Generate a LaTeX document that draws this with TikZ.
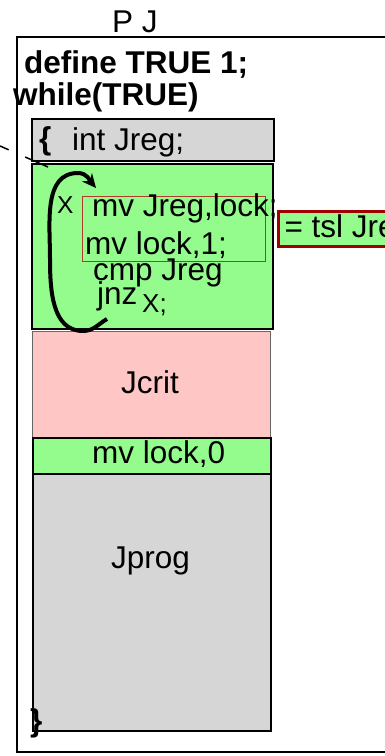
\documentclass[tikz,border=0pt]{standalone}
\usepackage{fontspec}
\setmainfont{Liberation Sans}
\usetikzlibrary{arrows.meta}
\definecolor{codegreen}{RGB}{148,252,140}
\definecolor{critpink}{RGB}{255,198,198}
\definecolor{blockgray}{RGB}{214,214,214}
\definecolor{tslred}{RGB}{160,0,0}
\definecolor{atomred}{RGB}{178,58,42}
\tikzset{
  txt/.style={anchor=base west, inner sep=0pt, font=\fontsize{31.5}{38}\selectfont},
  boldtxt/.style={txt, font=\fontsize{31.5}{38}\selectfont\bfseries},
  block/.style={draw=black, line width=2pt, inner sep=0pt, anchor=north west},
  thinblock/.style={draw=black!60, line width=0.8pt, inner sep=0pt, anchor=north west},
}
\begin{document}
\begin{tikzpicture}[x=1pt,y=-1pt]
\clip (0,0) rectangle (385,756);
\fill[white] (0,0) rectangle (385,756);

% process frame
\node[block, minimum width=400pt, minimum height=715pt] (frame) at (16,36) {};
\node[txt] (title) at (112,32) {P J};
\node[boldtxt] (def) at (24,73) {define TRUE 1;};
\node[boldtxt] (loop) at (13,105) {while(TRUE)};

% body blocks
\node[block, fill=blockgray, minimum width=242pt, minimum height=42pt] (decl) at (31,118) {};
\node[block, fill=codegreen, minimum width=241pt, minimum height=165pt] (lockbox) at (31,163) {};
\node[thinblock, fill=critpink, minimum width=238pt, minimum height=106pt] (crit) at (32,331) {};
\node[block, fill=codegreen, minimum width=238pt, minimum height=36pt] (unlock) at (32,437) {};
\node[block, fill=blockgray, minimum width=238pt, minimum height=257pt] (prog) at (32,473) {};

% atomic pair
\node[draw=atomred, line width=1pt, inner sep=0pt, anchor=north west,
      minimum width=183pt, minimum height=65pt] (atomic) at (82,196) {};

% test-and-set label
\node[draw=tslred, line width=3pt, fill=codegreen, anchor=north west, inner ysep=0pt,
      inner xsep=6pt, minimum height=35pt, font=\fontsize{31.5}{38}\selectfont] (tsl) at (277,210) {= tsl Jreg};

% code text
\node[boldtxt] (lbrace) at (39,149) {\{};
\node[txt] (declt) at (72,150) {int Jreg;};
\node[txt, font=\fontsize{24.5}{29}\selectfont] (lbl) at (57,213) {X};
\node[txt] (ld) at (92,216) {mv Jreg,lock;};
\node[txt] (st) at (85,254) {mv lock,1;};
\node[txt] (cmp) at (93,280) {cmp Jreg};
\node[txt] (jnz) at (97,304) {jnz};
\node[txt, font=\fontsize{26}{30}\selectfont] (tgt) at (142,312) {X;};
\node[txt] (critt) at (121,393) {Jcrit};
\node[txt] (unlockt) at (92,463) {mv lock,0};
\node[txt] (progt) at (111,568) {Jprog};
\node[boldtxt] (rbrace) at (30,731) {\}};

% jump back to X
\coordinate (jfrom) at (107,319);
\coordinate (jbot) at (83,331);
\coordinate (jleft) at (50,258);
\coordinate (jtop) at (78,173);
\coordinate (jto) at (96,188);
\draw[line width=4pt, -{Stealth[length=14pt,width=13pt]}]
  (jfrom) to[out=210,in=0] (jbot) to[out=180,in=-90] (jleft)
  to[out=90,in=180] (jtop) to[out=0,in=130] (jto);

% pointer from outside
\coordinate (lead) at (0,146);
\coordinate (leadend) at (48,167);
\draw[line width=1.5pt, dash pattern=on 9.5pt off 18pt on 40pt] (lead) -- (leadend);
\end{tikzpicture}
\end{document}
